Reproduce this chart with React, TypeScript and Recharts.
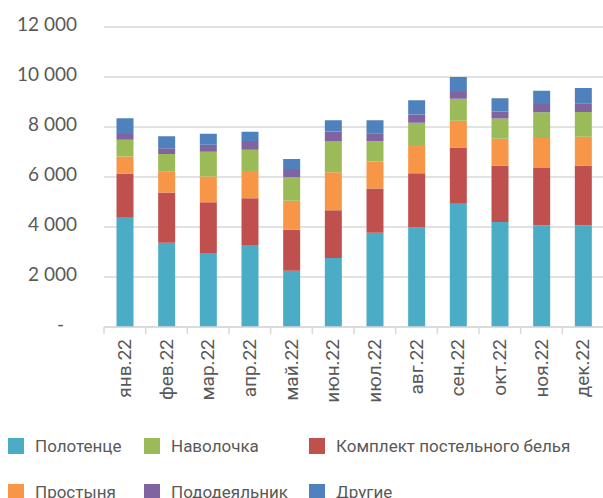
import { BarChart, Bar, XAxis, YAxis, CartesianGrid } from "recharts";

const months = [
  "янв.22", "фев.22", "мар.22", "апр.22", "май.22", "июн.22",
  "июл.22", "авг.22", "сен.22", "окт.22", "ноя.22", "дек.22",
];

const polotence = [4370, 3370, 2960, 3280, 2250, 2760, 3770, 3990, 4930, 4200, 4070, 4070];
const komplekt = [1770, 2010, 2030, 1870, 1640, 1910, 1770, 2160, 2250, 2250, 2290, 2390];
const prostynya = [680, 850, 1030, 1090, 1160, 1520, 1080, 1130, 1070, 1080, 1200, 1150];
const navolochka = [670, 690, 990, 850, 950, 1230, 810, 890, 880, 810, 1030, 990];
const pododeyalnik = [230, 230, 280, 350, 320, 400, 320, 330, 270, 280, 330, 350];
const drugie = [630, 480, 440, 370, 400, 450, 520, 570, 600, 530, 530, 610];

const yTicks = [0, 2000, 4000, 6000, 8000, 10000, 12000];

// stacking order, bottom to top
const series = [
  { key: "polotence", name: "Полотенце", color: "#4bacc6", values: polotence },
  { key: "komplekt", name: "Комплект постельного белья", color: "#c0504d", values: komplekt },
  { key: "prostynya", name: "Простыня", color: "#f79646", values: prostynya },
  { key: "navolochka", name: "Наволочка", color: "#9bbb59", values: navolochka },
  { key: "pododeyalnik", name: "Пододеяльник", color: "#8064a2", values: pododeyalnik },
  { key: "drugie", name: "Другие", color: "#4f81bd", values: drugie },
];

// legend reading order (rows of three)
const legendOrder = ["polotence", "navolochka", "komplekt", "prostynya", "pododeyalnik", "drugie"];

const data = months.map((m, i) => {
  const row: Record<string, string | number> = { month: m };
  series.forEach((s) => {
    row[s.key] = s.values[i];
  });
  return row;
});

const NUM_FONT = "Lato, Roboto, sans-serif";
const FONT = "Roboto, 'Noto Sans', sans-serif";
const TEXT = "#595959";

const fmt = (v: number) =>
  v === 0 ? "-" : v.toString().replace(/\B(?=(\d{3})+(?!\d))/g, " ");

function YTick(props: any) {
  const { x, y, payload } = props;
  const v = payload.value as number;
  return (
    <text
      x={v === 0 ? x - 13 : x}
      y={y}
      dy={4}
      textAnchor="end"
      fill={TEXT}
      fontSize={19}
      fontFamily={NUM_FONT}
    >
      {fmt(v)}
    </text>
  );
}

const BAND = 500 / 12;

function XTick(props: any) {
  const { x, y, payload } = props;
  const left = x - BAND / 2;
  return (
    <g>
      <line x1={left} y1={y} x2={left} y2={y + 7} stroke="#d9d9d9" strokeWidth={1.5} />
      <text
        x={x}
        y={y + 12}
        transform={`rotate(-90, ${x}, ${y + 12})`}
        textAnchor="end"
        dy={6}
        fill={TEXT}
        fontSize={19}
        fontFamily={FONT}
      >
        {payload.value}
      </text>
    </g>
  );
}

const legendPos = [
  { left: 8, top: 438 },
  { left: 144, top: 438 },
  { left: 309, top: 438 },
  { left: 8, top: 484 },
  { left: 144, top: 484 },
  { left: 309, top: 484 },
];

export default function App() {
  return (
    <div style={{ position: "absolute", left: 0, top: 0, width: 603, height: 498, background: "#fff", overflow: "hidden" }}>
      <BarChart
        width={604}
        height={498}
        data={data}
        margin={{ top: 27, right: 0, left: 0, bottom: 0 }}
        barCategoryGap="30%"
      >
        <CartesianGrid vertical={false} stroke="#d9d9d9" strokeWidth={1.5} />
        <XAxis
          dataKey="month"
          height={171}
          interval={0}
          axisLine={{ stroke: "#d9d9d9", strokeWidth: 1.5 }}
          tickLine={false}
          tickSize={0}
          tickMargin={0}
          tick={<XTick />}
        />
        <YAxis
          width={104}
          domain={[0, 12000]}
          ticks={yTicks}
          interval={0}
          axisLine={false}
          tickLine={false}
          tickSize={0}
          tickMargin={27}
          tick={<YTick />}
        />
        {series.map((s) => (
          <Bar
            key={s.key}
            dataKey={s.key}
            name={s.name}
            stackId="a"
            fill={s.color}
            isAnimationActive={false}
          />
        ))}
      </BarChart>
      {legendOrder.map((k, i) => {
        const s = series.find((d) => d.key === k)!;
        const p = legendPos[i];
        return (
          <div
            key={k}
            style={{
              position: "absolute",
              left: p.left,
              top: p.top,
              height: 16,
              display: "flex",
              alignItems: "center",
              fontFamily: FONT,
              fontSize: 17,
              lineHeight: "16px",
              color: TEXT,
              whiteSpace: "nowrap",
            }}
          >
            <span style={{ display: "inline-block", width: 16, height: 16, background: s.color, marginRight: 11 }} />
            <span>{s.name}</span>
          </div>
        );
      })}
    </div>
  );
}
